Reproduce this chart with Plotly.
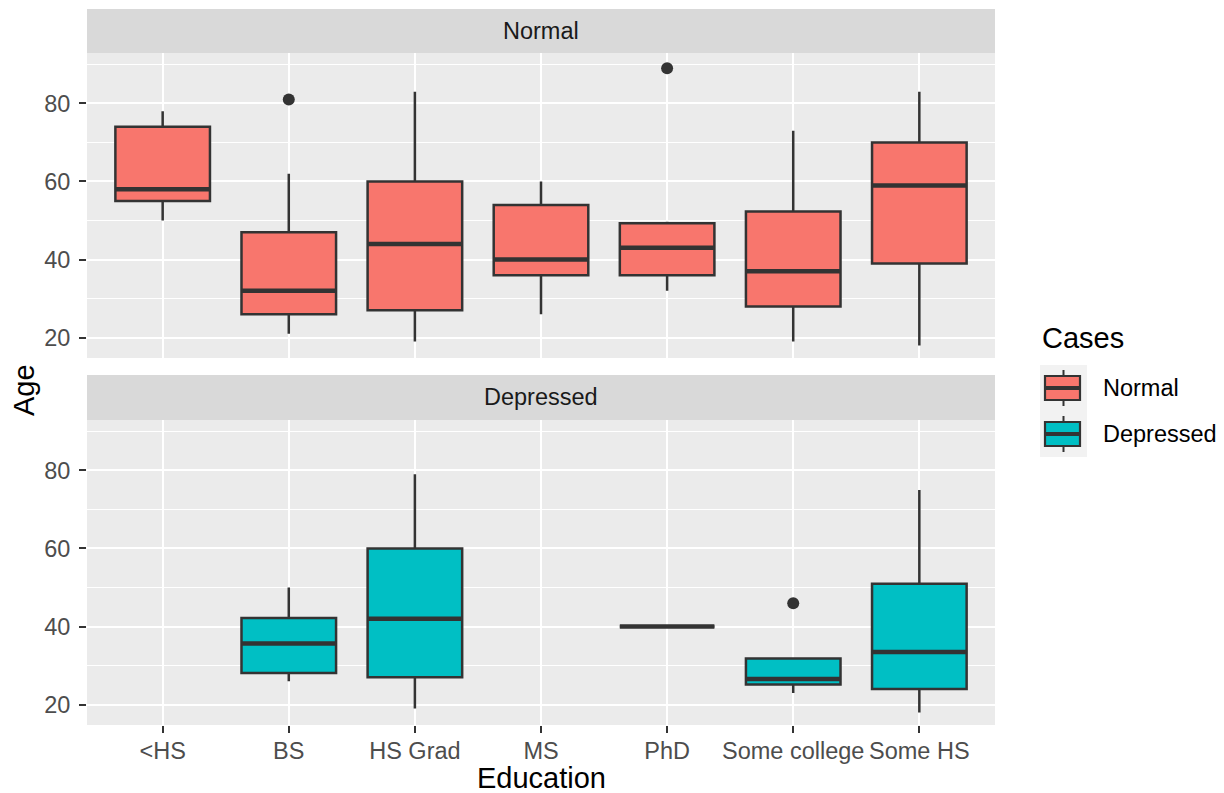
import plotly.graph_objects as go

categories = ["<HS", "BS", "HS Grad", "MS", "PhD", "Some college", "Some HS"]

# Normal group: five-number summaries
normal_x = ["<HS", "BS", "HS Grad", "MS", "PhD", "Some college", "Some HS"]
normal_low = [50, 21, 19, 26, 32, 19, 18]
normal_q1 = [55, 26, 27, 36, 36, 28, 39]
normal_med = [58, 32, 44, 40, 43, 37, 59]
normal_q3 = [74, 47, 60, 54, 49.3, 52.3, 70]
normal_high = [78, 62, 83, 60, 49.7, 73, 83]
normal_out_x = ["BS", "PhD"]
normal_out_y = [81, 89]

# Depressed group
dep_x = ["BS", "HS Grad", "PhD", "Some college", "Some HS"]
dep_low = [26, 19, 40, 23, 18]
dep_q1 = [28.1, 27, 40, 25.2, 24]
dep_med = [35.7, 42, 40, 26.6, 33.5]
dep_q3 = [42.2, 60, 40, 31.8, 51]
dep_high = [50, 79, 40, 31.8, 75]
dep_out_x = ["Some college"]
dep_out_y = [46]

y_ticks = [20, 40, 60, 80]
y_range = [14.8, 92.9]

FILL_N = "#F8766D"
FILL_D = "#00BFC4"
DARK = "#333333"
FONT = "Liberation Sans, Arial, sans-serif"

OFF = 8  # page body margin
W, H = 1224 - OFF, 793 - OFF
ML, MT = 87 - OFF, 9 - OFF
MR = W - (995 - OFF)
MB = H - (725 - OFF)
PW = W - ML - MR
PH = H - MT - MB


def px_x(p):
    return (p - OFF - ML) / PW


def px_y(p):
    return (H - MB - (p - OFF)) / PH


fig = go.Figure()


def add_group(xs, low, q1, med, q3, high, ox, oy, fill, xa, ya):
    fig.add_trace(go.Box(
        x=xs, q1=q1, median=med, q3=q3, lowerfence=low, upperfence=high,
        fillcolor=fill, line=dict(color=DARK, width=2.5), whiskerwidth=0,
        width=0.75, xaxis=xa, yaxis=ya, showlegend=False, hoverinfo="skip"))
    # thicker median line (ggplot fatten)
    fig.add_trace(go.Box(
        x=xs, q1=med, median=med, q3=med, lowerfence=med, upperfence=med,
        fillcolor=DARK, line=dict(color=DARK, width=4.5), whiskerwidth=0,
        width=0.75, xaxis=xa, yaxis=ya, showlegend=False, hoverinfo="skip"))
    fig.add_trace(go.Scatter(
        x=ox, y=oy, mode="markers",
        marker=dict(color=DARK, size=12, line=dict(width=0)),
        xaxis=xa, yaxis=ya, showlegend=False, hoverinfo="skip"))


add_group(normal_x, normal_low, normal_q1, normal_med, normal_q3, normal_high,
          normal_out_x, normal_out_y, FILL_N, "x", "y")
add_group(dep_x, dep_low, dep_q1, dep_med, dep_q3, dep_high,
          dep_out_x, dep_out_y, FILL_D, "x2", "y2")

top_dom = [px_y(358), px_y(53)]
bot_dom = [0, px_y(420)]

xcommon = dict(type="category", categoryorder="array", categoryarray=categories,
               range=[-0.6, 6.6], showgrid=True, gridcolor="white", gridwidth=2.2,
               zeroline=False, showline=False, domain=[0, 1])
ycommon = dict(range=y_range, tickvals=y_ticks, showgrid=True,
               gridcolor="white", gridwidth=2.2, zeroline=False, showline=False,
               ticks="outside", ticklen=7, tickwidth=2, tickcolor=DARK,
               tickfont=dict(size=23.5, color="#4D4D4D", family=FONT),
               minor=dict(dtick=10, tick0=0, showgrid=True, gridcolor="white",
                          gridwidth=1.1, ticks=""),
               ticklabelstandoff=4)

fig.update_layout(
    width=W, height=H,
    margin=dict(l=ML, r=MR, t=MT, b=MB),
    paper_bgcolor="white", plot_bgcolor="#EBEBEB",
    font=dict(family=FONT, color="#1A1A1A"),
    boxmode="overlay",
    showlegend=False,
    xaxis=dict(xcommon, anchor="y", showticklabels=False, ticks=""),
    xaxis2=dict(xcommon, anchor="y2", matches="x", showticklabels=True,
                ticks="outside", ticklen=7, tickwidth=2, tickcolor=DARK,
                ticklabelstandoff=-2,
                tickfont=dict(size=23.5, color="#4D4D4D", family=FONT)),
    yaxis=dict(ycommon, domain=top_dom, anchor="x"),
    yaxis2=dict(ycommon, domain=bot_dom, anchor="x2"),
)

shapes = []
annotations = []
# facet strips
for label, y0p, y1p in [("Normal", 53, 9), ("Depressed", 420, 375)]:
    shapes.append(dict(type="rect", xref="paper", yref="paper", x0=0, x1=1,
                       y0=px_y(y0p), y1=px_y(y1p), fillcolor="#D9D9D9",
                       line=dict(width=0), layer="below"))
    annotations.append(dict(text=label, xref="paper", yref="paper", x=0.5,
                            y=(px_y(y0p) + px_y(y1p)) / 2, showarrow=False,
                            xanchor="center", yanchor="middle",
                            font=dict(size=23.5, color="#1A1A1A", family=FONT)))

# axis titles
annotations.append(dict(text="Education", xref="paper", yref="paper", x=0.5,
                        y=px_y(778), showarrow=False, xanchor="center", yanchor="middle",
                        font=dict(size=29, color="black", family=FONT)))
annotations.append(dict(text="Age", xref="paper", yref="paper", x=px_x(24),
                        y=px_y(390), showarrow=False, textangle=-90,
                        xanchor="center", yanchor="middle",
                        font=dict(size=29, color="black", family=FONT)))

# legend (drawn manually to mimic ggplot keys)
annotations.append(dict(text="Cases", xref="paper", yref="paper", x=px_x(1040),
                        y=px_y(338), showarrow=False, xanchor="left", yanchor="middle",
                        font=dict(size=29, color="black", family=FONT)))
legend_items = [("Normal", FILL_N), ("Depressed", FILL_D)]
key_top = 365
key_h = 46
for i, (lab, col) in enumerate(legend_items):
    t = key_top + i * key_h
    c = t + key_h / 2
    shapes.append(dict(type="rect", xref="paper", yref="paper",
                       x0=px_x(1040), x1=px_x(1087), y0=px_y(t + key_h), y1=px_y(t),
                       fillcolor="#F2F2F2", line=dict(width=0)))
    shapes.append(dict(type="line", xref="paper", yref="paper",
                       x0=px_x(1063.5), x1=px_x(1063.5), y0=px_y(t + 5), y1=px_y(t + key_h - 5),
                       line=dict(color=DARK, width=2)))
    shapes.append(dict(type="rect", xref="paper", yref="paper",
                       x0=px_x(1045), x1=px_x(1080), y0=px_y(c + 12), y1=px_y(c - 12),
                       fillcolor=col, line=dict(color=DARK, width=2.2)))
    shapes.append(dict(type="line", xref="paper", yref="paper",
                       x0=px_x(1045), x1=px_x(1080), y0=px_y(c), y1=px_y(c),
                       line=dict(color=DARK, width=4)))
    annotations.append(dict(text=lab, xref="paper", yref="paper", x=px_x(1101),
                            y=px_y(c), showarrow=False, xanchor="left", yanchor="middle",
                            font=dict(size=23.5, color="black", family=FONT)))

fig.update_layout(shapes=shapes, annotations=annotations)

fig.write_html("out.html")
